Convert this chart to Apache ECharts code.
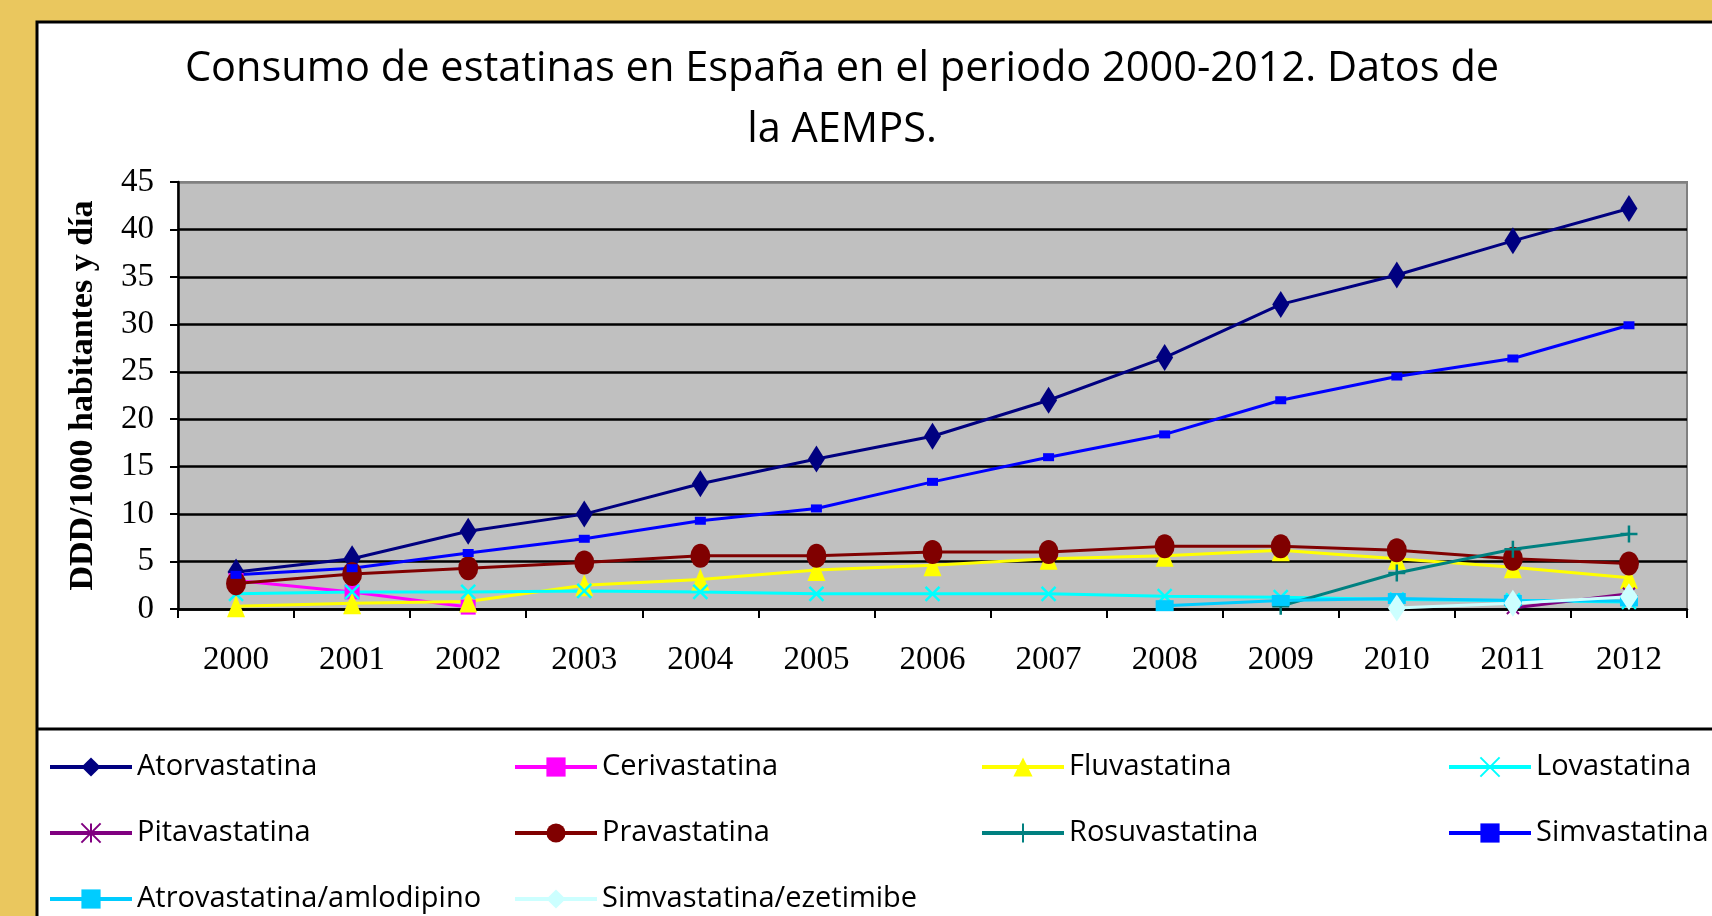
<!DOCTYPE html>
<html>
<head>
<meta charset="utf-8">
<script src="https://cdn.jsdelivr.net/npm/echarts@6/dist/echarts.min.js"></script>
<style>
html,body{margin:0;padding:0;background:#EAC75E;}
#chart{width:1712px;height:916px;}
</style>
</head>
<body>
<div id="chart"></div>
<script>
const titleText = 'Consumo de estatinas en España en el periodo 2000-2012. Datos de\nla AEMPS.';
const yAxisName = 'DDD/1000 habitantes y día';
const years = ['2000','2001','2002','2003','2004','2005','2006','2007','2008','2009','2010','2011','2012'];

const atorvastatina = [3.9, 5.3, 8.2, 10.0, 13.2, 15.8, 18.2, 22.0, 26.5, 32.1, 35.2, 38.8, 42.2];
const cerivastatina = [3.0, 1.8, 0.2, null, null, null, null, null, null, null, null, null, null];
const fluvastatina = [0.3, 0.6, 0.8, 2.5, 3.1, 4.1, 4.6, 5.3, 5.6, 6.2, 5.3, 4.4, 3.3];
const lovastatina = [1.6, 1.8, 1.8, 1.9, 1.8, 1.6, 1.6, 1.6, 1.35, 1.25, 1.0, 0.9, 0.75];
const pitavastatina = [null, null, null, null, null, null, null, null, null, null, null, 0.1, 1.6];
const pravastatina = [2.7, 3.7, 4.3, 4.9, 5.6, 5.6, 6.0, 6.0, 6.6, 6.6, 6.2, 5.3, 4.8];
const rosuvastatina = [null, null, null, null, null, null, null, null, null, 0.3, 3.8, 6.3, 7.9];
const simvastatina = [3.6, 4.3, 5.9, 7.4, 9.3, 10.6, 13.4, 16.0, 18.4, 22.0, 24.5, 26.4, 29.9];
const atrovastatinaAmlodipino = [null, null, null, null, null, null, null, null, 0.35, 0.9, 1.1, 0.9, 0.85];
const simvastatinaEzetimibe = [null, null, null, null, null, null, null, null, null, null, 0.1, 0.6, 1.3];

const names = ['Atorvastatina','Cerivastatina','Fluvastatina','Lovastatina','Pitavastatina','Pravastatina','Rosuvastatina','Simvastatina','Atrovastatina/amlodipino','Simvastatina/ezetimibe'];

const X_PATH = 'path://M0,0L10,10M10,0L0,10';
const AST_PATH = 'path://M0,0L10,10M10,0L0,10M5,0L5,10';
const PLUS_PATH = 'path://M5,0L5,10M0,5L10,5';

function mk(name, data, color, symbol, size, stroke) {
  const s = {
    name: name, type: 'line', data: data,
    symbol: symbol, symbolSize: size,
    lineStyle: {color: color, width: 3},
    itemStyle: {color: color, borderWidth: 0},
    connectNulls: false
  };
  if (stroke) {
    s.itemStyle = {color: color, borderColor: color, borderWidth: stroke};
  }
  return s;
}

const series = [
  mk(names[0], atorvastatina, '#000080', 'diamond', [17, 27]),
  mk(names[1], cerivastatina, '#FF00FF', 'rect', [15, 15]),
  mk(names[2], fluvastatina, '#FFFF00', 'triangle', [18, 22]),
  mk(names[3], lovastatina, '#00FFFF', X_PATH, [14, 14], 2.5),
  mk(names[4], pitavastatina, '#800080', AST_PATH, [12, 12], 2),
  mk(names[5], pravastatina, '#800000', 'circle', [20, 24]),
  mk(names[6], rosuvastatina, '#008080', PLUS_PATH, [17, 17], 2.5),
  mk(names[7], simvastatina, '#0000FF', 'rect', [11, 8]),
  mk(names[8], atrovastatinaAmlodipino, '#00CCFF', 'rect', [18, 11]),
  mk(names[9], simvastatinaEzetimibe, '#CCFFFF', 'diamond', [18, 27])
];

const legendCols = [
  [names[0], names[4], names[8]],
  [names[1], names[5], names[9]],
  [names[2], names[6]],
  [names[3], names[7]]
];
const legendLefts = [48, 513, 980, 1447];
const legends = legendCols.map((col, i) => ({
  data: col,
  orient: 'vertical',
  left: legendLefts[i],
  top: 752,
  itemWidth: 82,
  itemHeight: 24,
  itemGap: 36,
  padding: 0,
  selectedMode: false,
  lineStyle: {width: 4},
  textStyle: {fontFamily: 'Open Sans', fontSize: 29, color: '#000', lineHeight: 30}
}));

const splitColors = ['#000','#000','#000','#000','#000','#000','#000','#000','#000','#808080'];

const chart = echarts.init(document.getElementById('chart'));
chart.setOption({
  animation: false,
  backgroundColor: '#EAC75E',
  graphic: [
    {type: 'rect', z: -10, shape: {x: 37, y: 22, width: 1700, height: 920}, style: {fill: '#fff', stroke: '#000', lineWidth: 3}},
    {type: 'line', z: -9, shape: {x1: 37, y1: 729, x2: 1712, y2: 729}, style: {stroke: '#000', lineWidth: 3}}
  ],
  title: {
    text: titleText,
    left: 837,
    textAlign: 'center',
    top: 34,
    textStyle: {fontFamily: 'Open Sans', fontWeight: 'normal', fontSize: 41.5, lineHeight: 61, color: '#000'}
  },
  legend: legends,
  grid: {
    left: 178, right: 25, top: 182, bottom: 307,
    show: true, backgroundColor: '#C0C0C0', borderColor: '#808080', borderWidth: 2
  },
  xAxis: {
    type: 'category', data: years, boundaryGap: true,
    axisLine: {lineStyle: {color: '#000', width: 2.5}},
    axisTick: {show: true, length: 9, lineStyle: {color: '#000', width: 2}},
    axisLabel: {fontFamily: 'Liberation Serif', fontSize: 33, color: '#000', margin: 35}
  },
  yAxis: {
    type: 'value', min: 0, max: 45, interval: 5,
    name: yAxisName, nameLocation: 'middle', nameRotate: 90, nameGap: 78,
    nameTextStyle: {fontFamily: 'Liberation Serif', fontWeight: 'bold', fontSize: 34, color: '#000'},
    axisLine: {show: true, lineStyle: {color: '#000', width: 2.5}},
    axisTick: {show: true, length: 8, lineStyle: {color: '#000', width: 2}},
    axisLabel: {fontFamily: 'Liberation Serif', fontSize: 33, color: '#000', margin: 24},
    splitLine: {show: true, lineStyle: {color: splitColors, width: 2.5}}
  },
  series: series
});
</script>
</body>
</html>
